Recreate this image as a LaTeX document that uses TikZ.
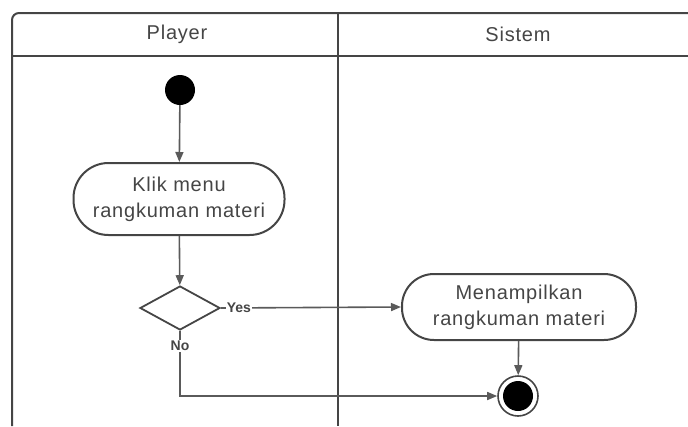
\documentclass[tikz,border=0pt]{standalone}
\usepackage{fontspec}
\setmainfont{Liberation Sans}
\usetikzlibrary{positioning, shapes.geometric, arrows.meta}
\definecolor{lanegray}{HTML}{454545}
\definecolor{flowgray}{HTML}{5A5A5A}
\tikzset{
  lane/.style={draw=lanegray, line width=2pt},
  label font/.style={font=\fontsize{20}{26}\selectfont\addfontfeature{LetterSpace=4}},
  activity/.style={draw=lanegray, line width=2pt, rounded corners=35pt,
                   align=center, inner sep=2pt, label font, text=lanegray},
  decision/.style={draw=lanegray, line width=1.8pt, diamond, aspect=1.8,
                   minimum width=80pt, minimum height=44pt, inner sep=0pt},
  startnode/.style={circle, fill=black, minimum size=30pt, inner sep=0pt},
  endnode/.style={circle, draw=lanegray, line width=1.6pt, fill=white,
                  minimum size=40pt, inner sep=0pt},
  guard/.style={font=\fontsize{14}{16}\selectfont\bfseries, text=lanegray, inner sep=1pt},
  flow/.style={-{Triangle[length=10pt, width=8pt]}, draw=flowgray, line width=1.6pt}
}

\begin{document}
\begin{tikzpicture}[x=1pt, y=-1pt]
\useasboundingbox (0,0) rectangle (688,426);
% swimlanes
\draw[lane, rounded corners=7pt] (12,426) -- (12,13) -- (700,13);
\draw[lane] (12,56) -- (700,56);
\draw[lane] (338,13) -- (338,426);
\node[label font, text=lanegray] (player) at (177,34) {Player};
\node[label font, text=lanegray] (sistem) at (518,34) {Sistem};

% nodes
\node[startnode] (start) at (180,90) {};
\node[activity, minimum width=211pt, minimum height=72pt] (klik) at (179,199) {Klik menu\\rangkuman materi};
\node[decision] (cek) at (180,308) {};
\node[activity, rounded corners=32pt, minimum width=234pt, minimum height=66pt] (tampil) at (519,307) {Menampilkan\\rangkuman materi};
\node[endnode] (selesai) at (518,396) {};
\node[circle, fill=black, minimum size=30pt, inner sep=0pt] (selesaiin) at (selesai) {};
\coordinate (belok) at (180,396);

% edges
\draw[flow] (start) -- (klik);
\draw[flow] (klik) -- (cek);
\draw[flow] (cek.east) -- node[guard, pos=0.1, fill=white] {Yes} (tampil.west);
\draw[flow] (tampil) -- (selesai);
\draw[flow] (cek.south) -- node[guard, pos=0.23, fill=white] {No} (belok) -- (selesai.west);
\end{tikzpicture}
\end{document}
